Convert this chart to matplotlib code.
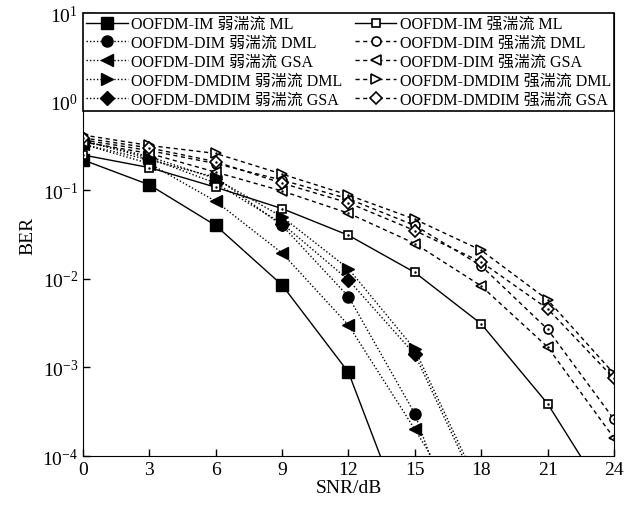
import matplotlib
matplotlib.use('Agg')
import matplotlib.pyplot as plt

plt.rcParams['font.family'] = ['Liberation Serif', 'Noto Sans CJK SC']
plt.rcParams['mathtext.fontset'] = 'stix'

snr = [0, 3, 6, 9, 12, 15, 18, 21, 24]

# weak turbulence (filled markers)
weak_im_ml = [0.22, 0.115, 0.04, 0.0085, 0.00088, 9.5e-6]
weak_dim_dml = [0.33, 0.22, 0.14, 0.04, 0.0063, 0.0003, 2.5e-6]
weak_dim_gsa = [0.33, 0.2, 0.075, 0.0195, 0.003, 0.0002, 1.2e-5]
weak_dmdim_dml = [0.36, 0.24, 0.135, 0.05, 0.013, 0.0016, 4e-5]
weak_dmdim_gsa = [0.36, 0.23, 0.12, 0.042, 0.0097, 0.0014, 3.5e-5]

# strong turbulence (open markers)
strong_im_ml = [0.25, 0.18, 0.108, 0.062, 0.031, 0.0118, 0.0031, 0.00039, 2.5e-5]
strong_dim_dml = [0.37, 0.28, 0.2, 0.13, 0.08, 0.04, 0.014, 0.0027, 0.00026]
strong_dim_gsa = [0.35, 0.26, 0.16, 0.098, 0.055, 0.025, 0.0083, 0.0017, 0.00016]
strong_dmdim_dml = [0.42, 0.32, 0.26, 0.152, 0.088, 0.047, 0.021, 0.0058, 0.00085]
strong_dmdim_gsa = [0.39, 0.3, 0.21, 0.12, 0.072, 0.035, 0.0155, 0.0046, 0.00075]

labels_weak = ['OOFDM-IM 弱湍流 ML', 'OOFDM-DIM 弱湍流 DML', 'OOFDM-DIM 弱湍流 GSA',
               'OOFDM-DMDIM 弱湍流 DML', 'OOFDM-DMDIM 弱湍流 GSA']
labels_strong = ['OOFDM-IM 强湍流 ML', 'OOFDM-DIM 强湍流 DML', 'OOFDM-DIM 强湍流 GSA',
                 'OOFDM-DMDIM 强湍流 DML', 'OOFDM-DMDIM 强湍流 GSA']

weak = [weak_im_ml, weak_dim_dml, weak_dim_gsa, weak_dmdim_dml, weak_dmdim_gsa]
strong = [strong_im_ml, strong_dim_dml, strong_dim_gsa, strong_dmdim_dml, strong_dmdim_gsa]
markers = ['s', 'o', '<', '>', 'D']
wsizes = [8, 8, 9, 9, 7]
ssizes = [6, 6.5, 7.5, 7.5, 6]

fig = plt.figure(figsize=(6.31, 5.06), dpi=100)
ax = fig.add_axes([0.1315, 0.0968, 0.8415, 0.8755])

handles = []
for i in range(5):
    y = weak[i]
    ls = '-' if i == 0 else (0, (1, 1.5))
    h, = ax.plot(snr[:len(y)], y, color='black', lw=1, ls=ls, marker=markers[i],
                 ms=wsizes[i], mfc='black', mec='black', label=labels_weak[i])
    handles.append(h)
for i in range(5):
    y = strong[i]
    ls = '-' if i == 0 else (0, (3, 2.5))
    h, = ax.plot(snr[:len(y)], y, color='black', lw=1, ls=ls, marker=markers[i],
                 ms=ssizes[i], mfc='white', mec='black', mew=1.2, label=labels_strong[i])
    ax.plot(snr[:len(y)], y, ls='none', marker='.', ms=1.5, color='black')
    handles.append(h)

ax.set_yscale('log')
ax.set_xlim(0, 24)
ax.set_ylim(1e-4, 10)
ax.set_xticks(snr)
ax.set_yticks([1e-4, 1e-3, 1e-2, 1e-1, 1, 10])
ax.minorticks_off()
ax.tick_params(direction='in', labelsize=14, length=5, width=1)
ax.set_xlabel('SNR/dB', fontsize=14, labelpad=1)
ax.set_ylabel('BER', fontsize=14)

leg = ax.legend(handles=handles, ncol=2, loc='upper left', mode='expand',
                bbox_to_anchor=(0, 0, 1, 1), borderaxespad=0, fontsize=11.5,
                fancybox=False, edgecolor='black', framealpha=1,
                handlelength=2.6, handletextpad=0.2, labelspacing=0.18,
                borderpad=0.2, columnspacing=0.4)
leg.get_frame().set_linewidth(1.2)

fig.savefig('out.png', dpi=100)
